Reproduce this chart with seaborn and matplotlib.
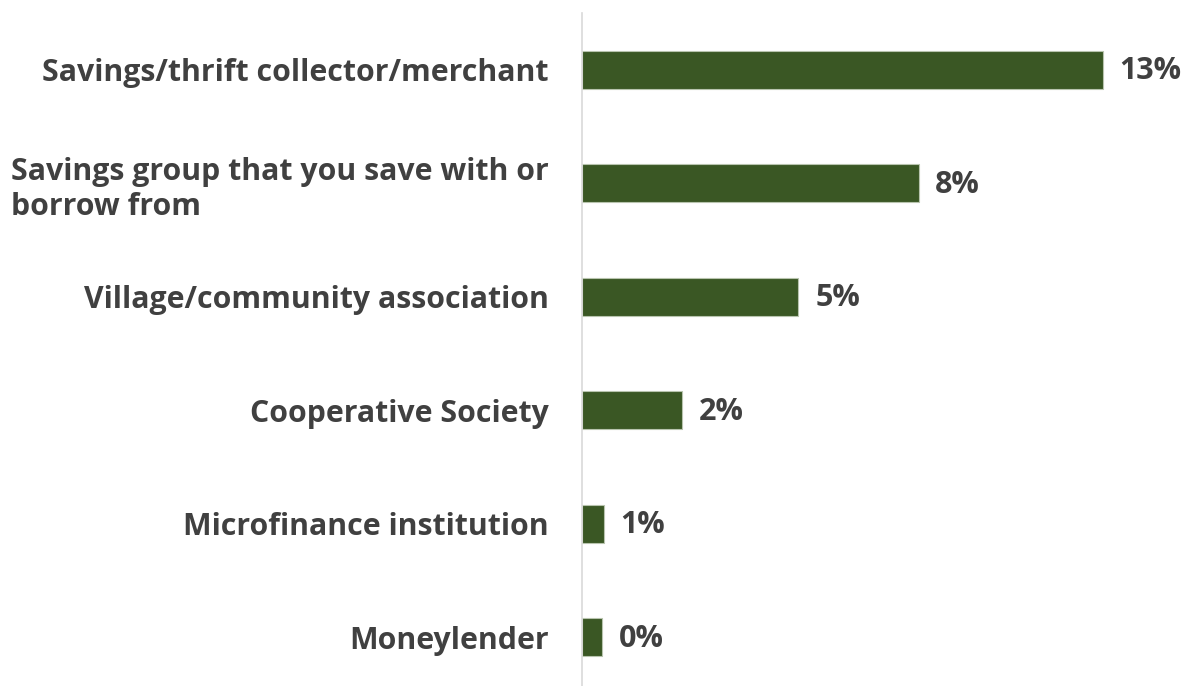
import matplotlib
matplotlib.use("Agg")
import matplotlib.pyplot as plt
import seaborn as sns
import pandas as pd

categories = [
    "Savings/thrift collector/merchant",
    "Savings group that you save with or\nborrow from",
    "Village/community association",
    "Cooperative Society",
    "Microfinance institution",
    "Moneylender",
]
values = [13.0, 8.4, 5.4, 2.5, 0.55, 0.5]
value_labels = ["13%", "8%", "5%", "2%", "1%", "0%"]

df = pd.DataFrame({"cat": categories, "val": values})

sns.set_theme(style="white")
plt.rcParams["font.family"] = ["Open Sans", "DejaVu Sans"]

W, H = 1190, 686
fig = plt.figure(figsize=(W / 100, H / 100), dpi=100)
ax = fig.add_axes([582 / W, 0, (W - 582) / W, 673 / H])

sns.barplot(data=df, x="val", y="cat", orient="h", color="#3A5724",
            width=0.335, edgecolor="#B8C4AE", linewidth=0.8, saturation=1, ax=ax)

ax.set_xlim(0, (W - 582) / 40.08)
ax.set_ylim(5.43, -0.5)
ax.set_xlabel("")
ax.set_ylabel("")
ax.set_xticks([])
for s in ["top", "right", "bottom"]:
    ax.spines[s].set_visible(False)
ax.spines["left"].set_color("#D9D9D9")
ax.spines["left"].set_linewidth(1.2)

ax.tick_params(axis="y", length=0, pad=24)
ax.set_yticks(range(len(categories)))
ax.set_yticklabels(categories, fontsize=21.8, fontweight="bold", color="#404040",
                   multialignment="left", linespacing=1.25)

for i, (v, lab) in enumerate(zip(values, value_labels)):
    ax.annotate(lab, xy=(v, i), xytext=(12, -1), textcoords="offset points",
                ha="left", va="center", fontsize=22, fontweight="bold",
                color="#404040")

fig.savefig("out.png", dpi=100)
